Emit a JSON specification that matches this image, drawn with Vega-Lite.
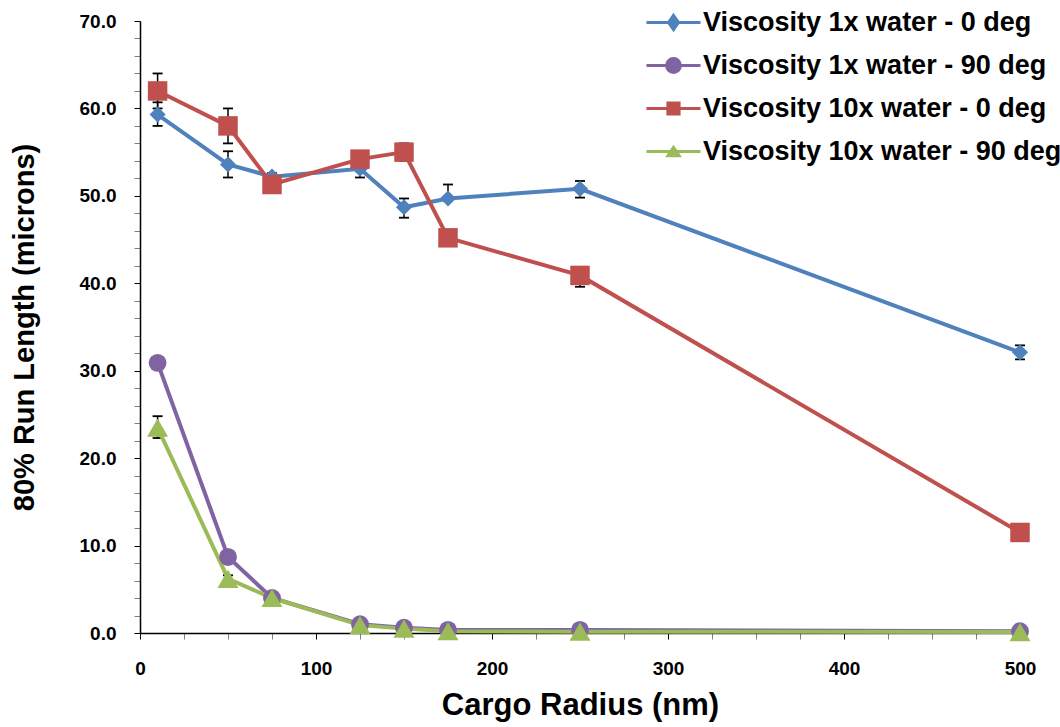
{
  "$schema": "https://vega.github.io/schema/vega-lite/v6.json",
  "width": 880,
  "height": 612,
  "autosize": {"type": "none"},
  "padding": {"left": 140, "top": 21, "right": 40, "bottom": 94},
  "config": {
    "view": {"stroke": null},
    "font": "Liberation Sans",
    "axis": {
      "grid": false,
      "domainColor": "black",
      "domainWidth": 1.5,
      "tickSize": 6,
      "tickWidth": 1,
      "labelFont": "Liberation Sans",
      "labelFontSize": 19,
      "labelFontWeight": "bold",
      "labelColor": "black",
      "titleFont": "Liberation Sans",
      "titleFontWeight": "bold",
      "titleColor": "black",
      "labelFlush": false,
      "labelOverlap": false
    },
    "legend": {
      "orient": "none",
      "legendX": 516,
      "legendY": -16,
      "labelFont": "Liberation Sans",
      "labelFontSize": 27,
      "labelFontWeight": "bold",
      "labelColor": "black",
      "labelLimit": 600,
      "symbolSize": 1024,
      "symbolStrokeWidth": 3,
      "symbolOpacity": 1,
      "symbolFillColor": "transparent",
      "rowPadding": 12,
      "labelOffset": 12
    }
  },
  "data": {
    "values": [
      {"s": "Viscosity 1x water - 0 deg", "r": 10, "y": 59.3, "lo": 58.0, "hi": 60.7},
      {"s": "Viscosity 1x water - 0 deg", "r": 50, "y": 53.6, "lo": 52.1, "hi": 55.1},
      {"s": "Viscosity 1x water - 0 deg", "r": 75, "y": 52.2, "lo": 51.8, "hi": 52.6},
      {"s": "Viscosity 1x water - 0 deg", "r": 125, "y": 53.1, "lo": 52.1, "hi": 54.1},
      {"s": "Viscosity 1x water - 0 deg", "r": 150, "y": 48.7, "lo": 47.5, "hi": 49.7},
      {"s": "Viscosity 1x water - 0 deg", "r": 175, "y": 49.7, "lo": 49.7, "hi": 51.3},
      {"s": "Viscosity 1x water - 0 deg", "r": 250, "y": 50.8, "lo": 49.8, "hi": 51.7},
      {"s": "Viscosity 1x water - 0 deg", "r": 500, "y": 32.1, "lo": 31.3, "hi": 32.9},
      {"s": "Viscosity 1x water - 90 deg", "r": 10, "y": 30.9},
      {"s": "Viscosity 1x water - 90 deg", "r": 50, "y": 8.7},
      {"s": "Viscosity 1x water - 90 deg", "r": 75, "y": 4.0},
      {"s": "Viscosity 1x water - 90 deg", "r": 125, "y": 1.0},
      {"s": "Viscosity 1x water - 90 deg", "r": 150, "y": 0.6},
      {"s": "Viscosity 1x water - 90 deg", "r": 175, "y": 0.35},
      {"s": "Viscosity 1x water - 90 deg", "r": 250, "y": 0.35},
      {"s": "Viscosity 1x water - 90 deg", "r": 500, "y": 0.2},
      {"s": "Viscosity 10x water - 0 deg", "r": 10, "y": 62.0, "lo": 60.0, "hi": 64.0},
      {"s": "Viscosity 10x water - 0 deg", "r": 50, "y": 58.0, "lo": 56.0, "hi": 60.0},
      {"s": "Viscosity 10x water - 0 deg", "r": 75, "y": 51.3, "lo": 50.4, "hi": 52.2},
      {"s": "Viscosity 10x water - 0 deg", "r": 125, "y": 54.2, "lo": 53.8, "hi": 54.6},
      {"s": "Viscosity 10x water - 0 deg", "r": 150, "y": 55.0, "lo": 54.0, "hi": 56.0},
      {"s": "Viscosity 10x water - 0 deg", "r": 175, "y": 45.2, "lo": 44.3, "hi": 46.1},
      {"s": "Viscosity 10x water - 0 deg", "r": 250, "y": 40.9, "lo": 39.6, "hi": 40.9},
      {"s": "Viscosity 10x water - 0 deg", "r": 500, "y": 11.5},
      {"s": "Viscosity 10x water - 90 deg", "r": 10, "y": 23.5, "lo": 22.3, "hi": 24.8},
      {"s": "Viscosity 10x water - 90 deg", "r": 50, "y": 6.2, "lo": 5.8, "hi": 6.6},
      {"s": "Viscosity 10x water - 90 deg", "r": 75, "y": 4.0},
      {"s": "Viscosity 10x water - 90 deg", "r": 125, "y": 0.9},
      {"s": "Viscosity 10x water - 90 deg", "r": 150, "y": 0.5},
      {"s": "Viscosity 10x water - 90 deg", "r": 175, "y": 0.2},
      {"s": "Viscosity 10x water - 90 deg", "r": 250, "y": 0.15},
      {"s": "Viscosity 10x water - 90 deg", "r": 500, "y": 0.1}
    ]
  },
  "encoding": {
    "x": {
      "field": "r",
      "type": "quantitative",
      "scale": {"domain": [0, 500], "nice": false},
      "axis": {
        "values": [0, 25, 50, 75, 100, 125, 150, 175, 200, 225, 250, 275, 300, 325, 350, 375, 400, 425, 450, 475, 500],
        "labelExpr": "datum.value % 100 === 0 ? format(datum.value, 'd') : ''",
        "tickColor": {"condition": {"test": "datum.value % 100 === 0", "value": "black"}, "value": "#808080"},
        "labelPadding": 20,
        "title": "Cargo Radius (nm)",
        "titleFontSize": 31,
        "titlePadding": 12
      }
    },
    "y": {
      "field": "y", "type": "quantitative", "scale": {"domain": [0, 70], "nice": false},
      "axis": {
        "values": [0, 2, 4, 6, 8, 10, 12, 14, 16, 18, 20, 22, 24, 26, 28, 30, 32, 34, 36, 38, 40, 42, 44, 46, 48, 50, 52, 54, 56, 58, 60, 62, 64, 66, 68, 70],
        "labelExpr": "datum.value % 10 === 0 ? format(datum.value, '.1f') : ''",
        "tickColor": {"condition": {"test": "datum.value % 10 === 0", "value": "black"}, "value": "#808080"},
        "labelPadding": 18,
        "title": "80% Run Length (microns)",
        "titleFontSize": 29,
        "titlePadding": 40
      }
    },
    "color": {
      "field": "s",
      "type": "nominal",
      "scale": {
        "domain": ["Viscosity 1x water - 0 deg", "Viscosity 1x water - 90 deg", "Viscosity 10x water - 0 deg", "Viscosity 10x water - 90 deg"],
        "range": ["#4F81BD", "#8064A2", "#C0504D", "#9BBB59"]
      },
      "legend": null
    }
  },
  "resolve": {
    "scale": {"shape": "independent"},
    "legend": {"color": "independent", "shape": "independent"}
  },
  "layer": [
    {
      "transform": [{"filter": "isValid(datum.hi)"}],
      "mark": {"type": "rule", "color": "black", "strokeWidth": 1.5},
      "encoding": {
        "y": {"field": "lo", "type": "quantitative"},
        "y2": {"field": "hi"},
        "color": {"value": "black"}
      }
    },
    {
      "transform": [{"filter": "isValid(datum.hi)"}],
      "mark": {"type": "tick", "orient": "horizontal", "color": "black", "size": 10, "thickness": 1.8, "opacity": 1},
      "encoding": {
        "y": {"field": "hi", "type": "quantitative"},
        "color": {"value": "black"}
      }
    },
    {
      "transform": [{"filter": "isValid(datum.lo)"}],
      "mark": {"type": "tick", "orient": "horizontal", "color": "black", "size": 10, "thickness": 1.8, "opacity": 1},
      "encoding": {
        "y": {"field": "lo", "type": "quantitative"},
        "color": {"value": "black"}
      }
    },
    {
      "mark": {"type": "line", "strokeWidth": 4},
      "encoding": {
        "detail": {"field": "s"}
      }
    },
    {
      "mark": {"type": "point", "filled": true, "opacity": 1},
      "encoding": {
        "shape": {
          "field": "s",
          "type": "nominal",
          "scale": {
            "domain": ["Viscosity 1x water - 0 deg", "Viscosity 1x water - 90 deg", "Viscosity 10x water - 0 deg", "Viscosity 10x water - 90 deg"],
            "range": ["diamond", "circle", "square", "triangle-up"]
          },
          "legend": null
        },
        "size": {
          "field": "s",
          "type": "nominal",
          "scale": {
            "domain": ["Viscosity 1x water - 0 deg", "Viscosity 1x water - 90 deg", "Viscosity 10x water - 0 deg", "Viscosity 10x water - 90 deg"],
            "range": [260, 440, 230, 250]
          },
          "legend": null
        }
      }
    },
    {
      "transform": [{"filter": "datum.r < 0"}],
      "mark": {"type": "point", "filled": false, "strokeWidth": 3, "opacity": 1},
      "encoding": {
        "color": {
          "field": "s",
          "type": "nominal",
          "scale": {
            "domain": ["Viscosity 1x water - 0 deg", "Viscosity 1x water - 90 deg", "Viscosity 10x water - 0 deg", "Viscosity 10x water - 90 deg"],
            "range": ["#4F81BD", "#8064A2", "#C0504D", "#9BBB59"]
          },
          "legend": {"title": null}
        },
        "shape": {
          "field": "s",
          "type": "nominal",
          "scale": {
            "domain": ["Viscosity 1x water - 0 deg", "Viscosity 1x water - 90 deg", "Viscosity 10x water - 0 deg", "Viscosity 10x water - 90 deg"],
            "range": [
              "M-1.69,0L1.69,0M0,-0.44L0.31,0L0,0.44L-0.31,0ZM0,-0.3L0.21,0L0,0.3L-0.21,0ZM0,-0.15L0.1,0L0,0.15L-0.1,0Z",
              "M-1.69,0L1.69,0M-0.43,0A0.43,0.43,0,1,1,0.43,0A0.43,0.43,0,1,1,-0.43,0ZM-0.29,0A0.29,0.29,0,1,1,0.29,0A0.29,0.29,0,1,1,-0.29,0ZM-0.15,0A0.15,0.15,0,1,1,0.15,0A0.15,0.15,0,1,1,-0.15,0Z",
              "M-1.69,0L1.69,0M-0.35,-0.35L0.35,-0.35L0.35,0.35L-0.35,0.35ZM-0.22,-0.22L0.22,-0.22L0.22,0.22L-0.22,0.22ZM-0.1,-0.1L0.1,-0.1L0.1,0.1L-0.1,0.1Z",
              "M-1.69,0L1.69,0M0,-0.26L0.35,0.26L-0.35,0.26ZM0,-0.17L0.23,0.17L-0.23,0.17ZM0,-0.085L0.115,0.085L-0.115,0.085Z"
            ]
          },
          "legend": {"title": null}
        }
      }
    }
  ]
}
